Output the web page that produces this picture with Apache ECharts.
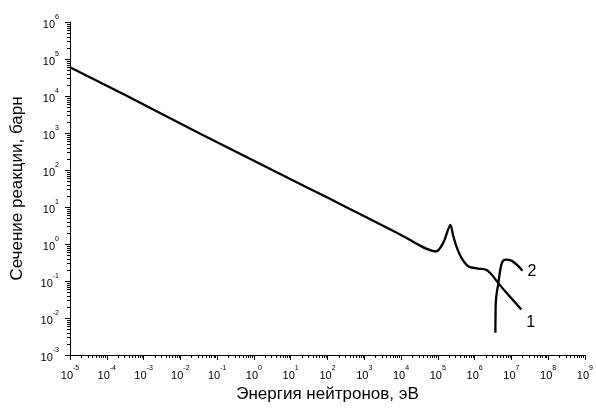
<!DOCTYPE html>
<html>
<head>
<meta charset="utf-8">
<script src="https://cdn.jsdelivr.net/npm/echarts@6/dist/echarts.min.js"></script>
<style>
html, body { margin: 0; padding: 0; background: #fff; }
#chart { width: 596px; height: 408px; }
</style>
</head>
<body>
<div id="chart"></div>
<script>
// curve 1: 1/v reaction with resonance near 250 keV
var energy1 = [1e-5, 1e-4, 1e-3, 1e-2, 1e-1, 1, 10, 100, 1e3, 1e4, 3e4, 5e4, 9e4,
    1.4e5, 1.83e5, 2.2e5, 2.63e5, 3.2e5, 4.4e5, 6.7e5, 1.25e6, 2.1e6, 2.9e6, 4.35e6, 8.1e6, 1.87e7];
var sigma1 = [6.0e4, 1.9e4, 5.9e3, 1.8e3, 560, 178, 56, 18, 5.6, 1.75, 0.95, 0.74, 0.63,
    1.07, 2.2, 3.3, 1.65, 0.86, 0.42, 0.25, 0.216, 0.2, 0.149, 0.089, 0.043, 0.017];

// curve 2: threshold reaction
var energy2 = [3.68e6, 3.7e6, 3.77e6, 4.0e6, 4.37e6, 4.9e6, 5.6e6, 6.9e6, 1.0e7, 1.5e7, 2.0e7];
var sigma2 = [0.004, 0.0091, 0.026, 0.048, 0.079, 0.18, 0.32, 0.38, 0.355, 0.26, 0.19];

var curveNames = ['1', '2'];

// decade exponents of the axes
var xDecades = [-5, -4, -3, -2, -1, 0, 1, 2, 3, 4, 5, 6, 7, 8, 9];
var yDecades = [-3, -2, -1, 0, 1, 2, 3, 4, 5, 6];
var minorSteps = [2, 3, 4, 5, 6, 7, 8, 9];

var font = '"Liberation Sans", Arial, sans-serif';

function zip(xs, ys) {
    return xs.map(function (x, i) { return [x, ys[i]]; });
}

function minorValues(decades) {
    var out = [];
    for (var i = 0; i < decades.length - 1; i++) {
        for (var k = 0; k < minorSteps.length; k++) {
            out.push(minorSteps[k] * Math.pow(10, decades[i]));
        }
    }
    return out;
}

var xMin = Math.pow(10, xDecades[0]);
var xMax = Math.pow(10, xDecades[xDecades.length - 1]);
var yMin = Math.pow(10, yDecades[0]);
var yMax = Math.pow(10, yDecades[yDecades.length - 1]);

function powerLabel(value) {
    var e = Math.round(Math.log(value) / Math.LN10);
    return '{b|10}{s|' + e + '}';
}

var labelRich = {
    b: { fontSize: 11, lineHeight: 16, verticalAlign: 'bottom', fontFamily: font, color: '#000' },
    s: { fontSize: 7, lineHeight: 7, verticalAlign: 'top', fontFamily: font, color: '#000' }
};

var chart = echarts.init(document.getElementById('chart'), null, { renderer: 'canvas' });

var option = {
    backgroundColor: '#fff',
    animation: false,
    textStyle: { fontFamily: font },
    grid: { left: 70, right: 10, top: 22, bottom: 52 },
    xAxis: {
        type: 'log',
        logBase: 10,
        min: xMin,
        max: xMax,
        interval: 1,
        name: 'Энергия нейтронов, эВ',
        nameLocation: 'middle',
        nameGap: 31,
        nameTextStyle: { fontSize: 17, color: '#000', fontFamily: font },
        axisLine: { lineStyle: { color: '#000', width: 1 } },
        axisTick: { length: 5, lineStyle: { color: '#000', width: 1 } },
        axisLabel: { margin: 10, formatter: powerLabel, rich: labelRich, showMinLabel: true, showMaxLabel: true },
        splitLine: { show: false }
    },
    yAxis: {
        type: 'log',
        logBase: 10,
        min: yMin,
        max: yMax,
        interval: 1,
        name: 'Сечение реакции, барн',
        nameLocation: 'middle',
        nameGap: 44,
        nameTextStyle: { fontSize: 17, color: '#000', fontFamily: font },
        axisLine: { lineStyle: { color: '#000', width: 1 } },
        axisTick: { length: 5, lineStyle: { color: '#000', width: 1 } },
        axisLabel: { margin: 11, formatter: powerLabel, rich: labelRich, showMinLabel: true, showMaxLabel: true },
        splitLine: { show: false }
    },
    series: [
        {
            name: curveNames[0],
            type: 'line',
            data: zip(energy1, sigma1),
            showSymbol: false,
            symbol: 'none',
            smooth: 0.3,
            lineStyle: { color: '#000', width: 2.3 },
            endLabel: {
                show: true,
                formatter: curveNames[0],
                distance: 5,
                offset: [0, 13],
                fontSize: 16,
                color: '#000',
                fontFamily: font
            }
        },
        {
            name: curveNames[1],
            type: 'line',
            data: zip(energy2, sigma2),
            showSymbol: false,
            symbol: 'none',
            smooth: 0.3,
            lineStyle: { color: '#000', width: 2.3 },
            endLabel: {
                show: true,
                formatter: curveNames[1],
                distance: 5,
                offset: [0, 1],
                fontSize: 16,
                color: '#000',
                fontFamily: font
            }
        }
    ]
};

chart.setOption(option);

// minor log ticks (2..9 in every decade), placed through the axis scales
var minorTicks = [];
minorValues(xDecades).forEach(function (v) {
    var p = chart.convertToPixel({ gridIndex: 0 }, [v, yMin]);
    var x = Math.round(p[0]) + 0.5;
    minorTicks.push({
        type: 'line', silent: true,
        shape: { x1: x, y1: p[1], x2: x, y2: p[1] + 3 },
        style: { stroke: '#000', lineWidth: 1 }
    });
});
minorValues(yDecades).forEach(function (v) {
    var p = chart.convertToPixel({ gridIndex: 0 }, [xMin, v]);
    var y = Math.round(p[1]) + 0.5;
    minorTicks.push({
        type: 'line', silent: true,
        shape: { x1: p[0] - 3, y1: y, x2: p[0], y2: y },
        style: { stroke: '#000', lineWidth: 1 }
    });
});
chart.setOption({ graphic: minorTicks });
</script>
</body>
</html>
